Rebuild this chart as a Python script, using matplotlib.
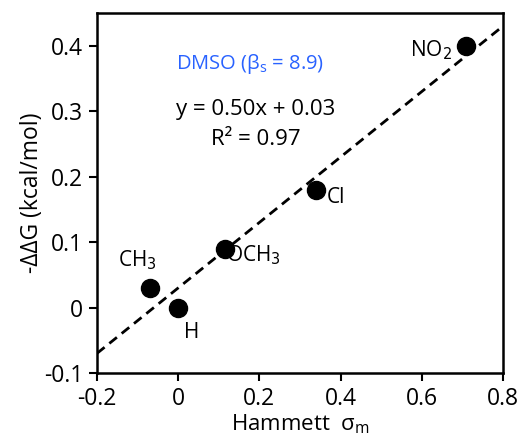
import numpy as np
import matplotlib.pyplot as plt

plt.rcParams['font.family'] = ['Open Sans', 'DejaVu Sans']

# data
groups = ['CH$_3$', 'H', 'OCH$_3$', 'Cl', 'NO$_2$']
sigma_m = [-0.07, 0.0, 0.115, 0.34, 0.71]
ddg = [0.03, 0.0, 0.09, 0.18, 0.40]
slope, intercept = 0.50, 0.03
fit_x = [-0.2, 0.8]

fig = plt.figure(figsize=(5.27, 4.44), dpi=100)
ax = fig.add_axes([97 / 527, 71 / 444, 406 / 527, 360 / 444])

fx = np.array(fit_x)
ax.plot(fx, slope * fx + intercept, ls=(0, (3.5, 2.2)), color='black', lw=2, zorder=2)
ax.plot(sigma_m, ddg, 'o', color='black', ms=13, zorder=3)

# point labels
label_pos = {
    'CH$_3$': (-0.149, 0.072, 'left'),
    'H': (0.014, -0.038, 'left'),
    'OCH$_3$': (0.117, 0.080, 'left'),
    'Cl': (0.367, 0.168, 'left'),
    'NO$_2$': (0.675, 0.393, 'right'),
}
for g in groups:
    x, y, ha = label_pos[g]
    ax.text(x, y, g, fontsize=15, ha=ha, va='center')

ax.text(0.177, 0.372, r'DMSO ($\mathregular{\beta_s}$ = 8.9)', color='#2962ff', fontsize=14.5,
        ha='center', va='center')
ax.text(0.19, 0.302, 'y = 0.50x + 0.03', fontsize=16, ha='center', va='center')
ax.text(0.192, 0.256, 'R² = 0.97', fontsize=16, ha='center', va='center')

ax.set_xlim(-0.2, 0.8)
ax.set_ylim(-0.1, 0.45)
ax.set_xticks([-0.2, 0, 0.2, 0.4, 0.6, 0.8])
ax.set_xticklabels(['-0.2', '0', '0.2', '0.4', '0.6', '0.8'])
ax.set_yticks([-0.1, 0, 0.1, 0.2, 0.3, 0.4])
ax.set_yticklabels(['-0.1', '0', '0.1', '0.2', '0.3', '0.4'])
ax.tick_params(direction='out', length=6, width=1.5, labelsize=16.5, pad=4)
for s in ax.spines.values():
    s.set_linewidth(1.8)

ax.set_xlabel(r'Hammett  $\mathregular{\sigma_m}$', fontsize=16, labelpad=1)
ax.set_ylabel('-ΔΔG (kcal/mol)', fontsize=16.5, labelpad=0)

fig.savefig('out.png', dpi=100)
